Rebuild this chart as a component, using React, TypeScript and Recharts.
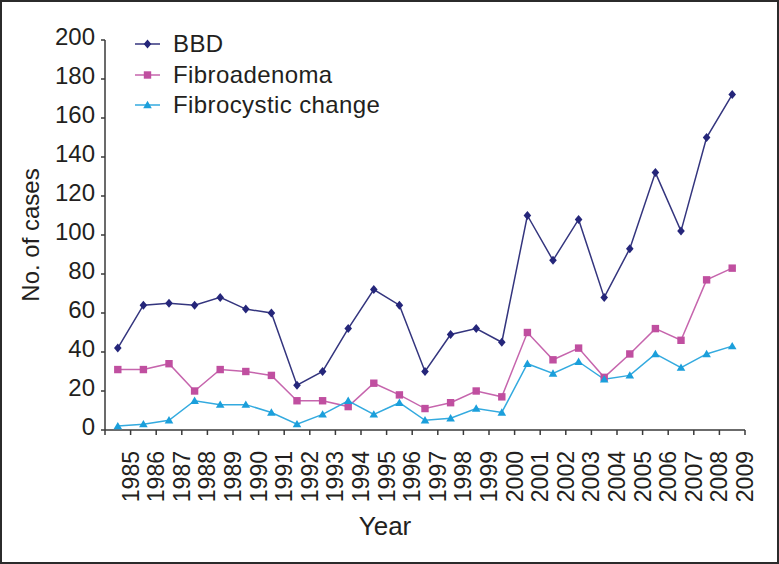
import { LineChart, Line, XAxis, YAxis, Label } from 'recharts';

const YEARS = [
  '1985', '1986', '1987', '1988', '1989', '1990', '1991', '1992', '1993',
  '1994', '1995', '1996', '1997', '1998', '1999', '2000', '2001', '2002',
  '2003', '2004', '2005', '2006', '2007', '2008', '2009',
];
const BBD = [42, 64, 65, 64, 68, 62, 60, 23, 30, 52, 72, 64, 30, 49, 52, 45, 110, 87, 108, 68, 93, 132, 102, 150, 172];
const FIBROADENOMA = [31, 31, 34, 20, 31, 30, 28, 15, 15, 12, 24, 18, 11, 14, 20, 17, 50, 36, 42, 27, 39, 52, 46, 77, 83];
const FIBROCYSTIC = [2, 3, 5, 15, 13, 13, 9, 3, 8, 15, 8, 14, 5, 6, 11, 9, 34, 29, 35, 26, 28, 39, 32, 39, 43];
const Y_TICKS = [0, 20, 40, 60, 80, 100, 120, 140, 160, 180, 200];

const WIDTH = 779;
const HEIGHT = 564;
const FONT = '"Liberation Sans", Arial, sans-serif';
const INK = '#231f20';
const AXIS = '#3a3a3a';

type Shape = 'diamond' | 'square' | 'triangle';

const SERIES: { key: string; name: string; color: string; line: string; shape: Shape }[] = [
  { key: 'bbd', name: 'BBD', color: '#25267a', line: '#34357e', shape: 'diamond' },
  { key: 'fibroadenoma', name: 'Fibroadenoma', color: '#c04fa0', line: '#c665ad', shape: 'square' },
  { key: 'fibrocystic', name: 'Fibrocystic change', color: '#1b9fdb', line: '#33aadf', shape: 'triangle' },
];

const data = YEARS.map((year, i) => ({
  year,
  bbd: BBD[i],
  fibroadenoma: FIBROADENOMA[i],
  fibrocystic: FIBROCYSTIC[i],
}));

function Marker({ cx, cy, shape, color }: { cx: number; cy: number; shape: Shape; color: string }) {
  if (shape === 'diamond') {
    return <polygon points={`${cx},${cy - 4.5} ${cx + 3.8},${cy} ${cx},${cy + 4.5} ${cx - 3.8},${cy}`} fill={color} />;
  }
  if (shape === 'square') {
    return <rect x={cx - 3.7} y={cy - 3.7} width={7.4} height={7.4} fill={color} />;
  }
  return <polygon points={`${cx},${cy - 4.2} ${cx + 4.3},${cy + 3.2} ${cx - 4.3},${cy + 3.2}`} fill={color} />;
}

// labels sit on the boundary ticks, half a band right of each point
function YearTick(props: any) {
  const { x, y, payload, index } = props;
  const half = payload?.offset || 12.8;
  const bx = x + half;
  return (
    <g>
      {index === 0 && <line x1={x - half} y1={y} x2={x - half} y2={y + 5} stroke={AXIS} strokeWidth={1.5} />}
      <line x1={bx} y1={y} x2={bx} y2={y + 5} stroke={AXIS} strokeWidth={1.5} />
      <text
        transform={`translate(${bx},${y + 21}) rotate(-90)`}
        textAnchor="end"
        dominantBaseline="central"
        fontSize={23}
        fontFamily={FONT}
        fill={INK}
      >
        {payload.value}
      </text>
    </g>
  );
}

function CountTick(props: any) {
  const { x, y, payload } = props;
  return (
    <text x={x} y={y - 4} textAnchor="end" dominantBaseline="central" fontSize={24} fontFamily={FONT} fill={INK}>
      {payload.value}
    </text>
  );
}

function ChartLegend() {
  return (
    <div style={{ position: 'absolute', left: 135, top: 29, fontFamily: FONT, fontSize: 24, color: INK }}>
      {SERIES.map((s) => (
        <div key={s.key} style={{ display: 'flex', alignItems: 'center', height: 30.5 }}>
          <svg width={38} height={30} style={{ display: 'block' }}>
            <line x1={0} y1={15} x2={25} y2={15} stroke={s.line} strokeWidth={1.5} />
            <Marker cx={12.5} cy={15} shape={s.shape} color={s.color} />
          </svg>
          <span style={{ lineHeight: '30px', letterSpacing: 0.4 }}>{s.name}</span>
        </div>
      ))}
    </div>
  );
}

export default function App() {
  return (
    <div style={{ position: 'absolute', left: 0, top: 0, width: WIDTH, height: HEIGHT, background: '#fff' }}>
      <LineChart width={WIDTH} height={HEIGHT} data={data} margin={{ top: 40, right: 34, bottom: 0, left: 0 }}>
        <XAxis
          dataKey="year"
          scale="band"
          interval={0}
          height={134}
          tickSize={0}
          tickMargin={0}
          tickLine={false}
          axisLine={{ stroke: AXIS, strokeWidth: 1.5 }}
          tick={<YearTick />}
        >
          <Label
            content={() => (
              <text x={385} y={535} textAnchor="middle" fontSize={26} fontFamily={FONT} fill={INK}>
                Year
              </text>
            )}
          />
        </XAxis>
        <YAxis
          width={105}
          domain={[0, 200]}
          ticks={Y_TICKS}
          interval={0}
          tickSize={4}
          tickMargin={6}
          tickLine={{ stroke: AXIS, strokeWidth: 1.5 }}
          axisLine={{ stroke: AXIS, strokeWidth: 1.5 }}
          tick={<CountTick />}
        >
          <Label
            content={() => (
              <text
                x={39}
                y={235}
                transform="rotate(-90, 39, 235)"
                textAnchor="middle"
                fontSize={24}
                fontFamily={FONT}
                fill={INK}
              >
                No. of cases
              </text>
            )}
          />
        </YAxis>
        {SERIES.map((s) => (
          <Line
            key={s.key}
            type="linear"
            dataKey={s.key}
            name={s.name}
            stroke={s.line}
            strokeWidth={1.5}
            isAnimationActive={false}
            activeDot={false}
            dot={(p: any) => <Marker key={`${s.key}-${p.index}`} cx={p.cx} cy={p.cy} shape={s.shape} color={s.color} />}
          />
        ))}
      </LineChart>
      <ChartLegend />
      <div
        style={{
          position: 'absolute',
          inset: 0,
          border: '2px solid #2b2b2b',
          pointerEvents: 'none',
        }}
      />
    </div>
  );
}
